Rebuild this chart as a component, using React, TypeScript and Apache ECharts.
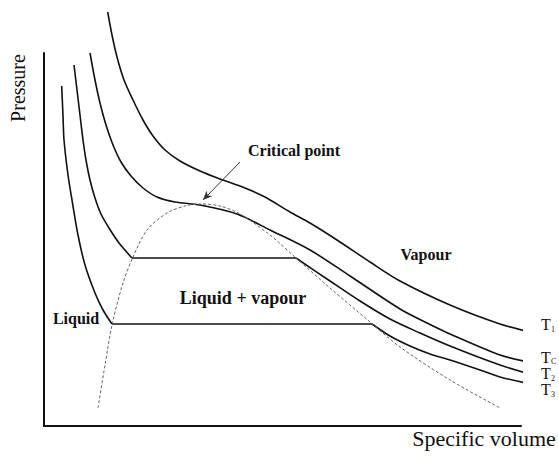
import React, { useEffect, useRef } from "react";
import * as echarts from "echarts";

// Specific volume (arbitrary units) vs pressure (arbitrary units)
const isothermT1: number[][] = [
  [63.7, 414], [68, 391], [73, 369], [80, 346], [89, 326], [99, 306], [109, 290], [121, 276],
  [136, 265], [156, 255], [176, 247], [201, 238], [221, 229], [246, 214], [266, 203],
  [293, 186], [326, 164], [356, 145], [406, 121], [456, 102], [486, 94],
];
const isothermTc: number[][] = [
  [46, 373], [51, 346], [56, 323], [62, 301], [69, 281], [77, 264], [87, 250], [99, 238],
  [113, 229], [131, 224], [156, 221], [193, 212], [226, 196], [266, 176], [306, 150],
  [356, 117], [381, 104], [406, 92], [456, 71], [489, 63],
];
const t2Liquid: number[][] = [
  [30, 361], [33, 336], [36, 311], [39, 286], [42, 266], [46, 246], [51, 228], [57, 212],
  [65, 198], [75, 183], [88, 168],
];
const t2Mixture: number[][] = [[88, 168], [252, 168]];
const t2Vapour: number[][] = [
  [252, 168], [286, 145], [316, 125], [346, 107], [376, 93], [406, 80], [456, 61], [489, 51],
];
const t3Liquid: number[][] = [
  [17.7, 340], [19, 310], [20, 286], [24, 251], [28, 226], [34, 191], [41, 161], [51, 133],
  [59, 116], [68, 102],
];
const t3Mixture: number[][] = [[68, 102], [328, 102]];
const t3Vapour: number[][] = [
  [328, 102], [346, 90], [366, 80], [386, 72], [406, 66], [436, 56], [456, 49], [487, 42],
];
const saturationDome: number[][] = [
  [54, 18], [61, 61], [68, 101], [79, 143], [89, 169], [103, 196], [123, 213], [141, 220],
  [156, 222], [176, 220], [196, 212], [226, 191], [252, 168], [286, 138], [326, 104],
  [356, 79], [406, 46], [456, 18],
];
const criticalArrow: number[][] = [[196, 264], [159, 226]];

const xMax = 477;
const yMax = 373;

const SERIF = "'Liberation Serif', 'DejaVu Serif', serif";

export default function App() {
  const ref = useRef<HTMLDivElement>(null);

  useEffect(() => {
    if (!ref.current) return;
    const chart = echarts.init(ref.current, undefined, { renderer: "svg" });

    const curve = (name: string, data: number[][], smooth: number | boolean) => ({
      name,
      type: "line",
      data,
      smooth,
      showSymbol: false,
      symbol: "none",
      clip: false,
      lineStyle: { color: "#111", width: 1.6 },
      silent: true,
    });

    const textStyle = (size: number, weight: string = "normal") => ({
      fontFamily: SERIF,
      fontSize: size,
      fontWeight: weight,
      fill: "#111",
      textAlign: "center",
      textVerticalAlign: "middle",
    });

    chart.setOption({
      animation: false,
      backgroundColor: "#fff",
      grid: { left: 44, top: 53, width: 477, height: 373 },
      xAxis: {
        type: "value",
        min: 0,
        max: xMax,
        axisLine: { show: true, lineStyle: { color: "#111", width: 2 } },
        axisTick: { show: false },
        axisLabel: { show: false },
        splitLine: { show: false },
      },
      yAxis: {
        type: "value",
        min: 0,
        max: yMax,
        axisLine: { show: true, lineStyle: { color: "#111", width: 2 } },
        axisTick: { show: false },
        axisLabel: { show: false },
        splitLine: { show: false },
      },
      series: [
        curve("T1", isothermT1, 0.3),
        curve("Tc", isothermTc, 0.3),
        curve("T2 liquid", t2Liquid, 0.3),
        curve("T2 mixture", t2Mixture, false),
        curve("T2 vapour", t2Vapour, 0.3),
        curve("T3 liquid", t3Liquid, 0.3),
        curve("T3 mixture", t3Mixture, false),
        curve("T3 vapour", t3Vapour, 0.3),
        {
          name: "Saturation dome",
          type: "line",
          data: saturationDome,
          smooth: 0.3,
          showSymbol: false,
          symbol: "none",
          clip: false,
          silent: true,
          lineStyle: { color: "#666", width: 1, type: [3, 2] },
        },
        {
          name: "arrow",
          type: "line",
          data: [],
          silent: true,
          markLine: {
            silent: true,
            symbol: ["none", "arrow"],
            symbolSize: [6, 9],
            label: { show: false },
            lineStyle: { color: "#333", width: 1, type: "solid" },
            data: [[{ coord: criticalArrow[0] }, { coord: criticalArrow[1] }]],
          },
        },
      ],
      graphic: [
        { type: "text", x: 18, y: 88, rotation: Math.PI / 2, style: { text: "Pressure", ...textStyle(20) } },
        { type: "text", x: 484, y: 438, style: { text: "Specific volume", ...textStyle(22) } },
        { type: "text", x: 294, y: 150, style: { text: "Critical point", ...textStyle(16, "bold") } },
        { type: "text", x: 426, y: 254, style: { text: "Vapour", ...textStyle(16, "bold") } },
        { type: "text", x: 243, y: 298, style: { text: "Liquid + vapour", ...textStyle(18, "bold") } },
        { type: "text", x: 76, y: 318, style: { text: "Liquid", ...textStyle(16, "bold") } },
        { type: "text", x: 541, y: 324, style: { text: "T", ...textStyle(16), textAlign: "left" } },
        { type: "text", x: 551, y: 329, style: { text: "1", ...textStyle(8), textAlign: "left" } },
        { type: "text", x: 541, y: 357, style: { text: "T", ...textStyle(16), textAlign: "left" } },
        { type: "text", x: 551, y: 361, style: { text: "C", ...textStyle(8), textAlign: "left" } },
        { type: "text", x: 541, y: 373, style: { text: "T", ...textStyle(16), textAlign: "left" } },
        { type: "text", x: 551, y: 378, style: { text: "2", ...textStyle(8), textAlign: "left" } },
        { type: "text", x: 541, y: 389, style: { text: "T", ...textStyle(16), textAlign: "left" } },
        { type: "text", x: 551, y: 394, style: { text: "3", ...textStyle(8), textAlign: "left" } },
      ],
    });

    return () => chart.dispose();
  }, []);

  return (
    <div
      ref={ref}
      style={{ position: "absolute", left: 0, top: 0, width: 559, height: 456 }}
    />
  );
}
